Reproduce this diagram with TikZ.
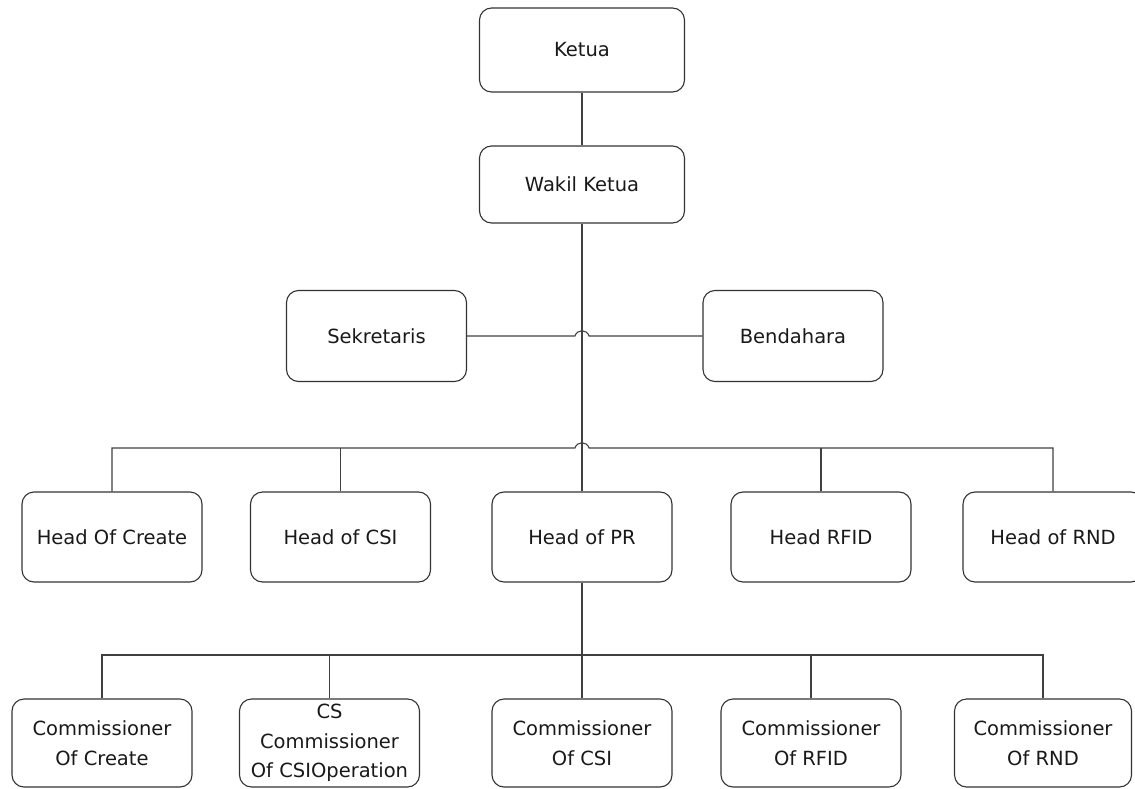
\documentclass[tikz,border=0pt]{standalone}
\usepackage{fontspec}
\setmainfont{DejaVu Sans}
\usepackage{tikz}

\begin{document}
\begin{tikzpicture}[x=1pt,y=-1pt,
		orgbox/.style={draw=black!80, line width=1.1pt, rounded corners=12pt, align=center, minimum width=180pt, minimum height=90pt, inner sep=0pt, font=\fontsize{19.5}{29.5}\selectfont, text=black!90},
		orgline/.style={draw=black!75, line width=1.1pt}]
		\useasboundingbox (0,0) rectangle (1135,789);
		\node[orgbox, minimum width=205pt, minimum height=84pt] (ketua) at (582,50) {Ketua};
		\node[orgbox, minimum width=205pt, minimum height=77pt] (wakil) at (582,184.5) {Wakil Ketua};
		\node[orgbox, minimum height=91pt] (sekretaris) at (376.5,336) {Sekretaris};
		\node[orgbox, minimum height=91pt] (bendahara) at (793,336) {Bendahara};
		\node[orgbox] (hcreate) at (112,537) {Head Of Create};
		\node[orgbox] (hcsi) at (340.5,537) {Head of CSI};
		\node[orgbox] (hpr) at (582,537) {Head of PR};
		\node[orgbox] (hrfid) at (821,537) {Head RFID};
		\node[orgbox] (hrnd) at (1053,537) {Head of RND};
		\node[orgbox, minimum height=88pt] (ccreate) at (102,743) {Commissioner\\Of Create};
		\node[orgbox, minimum height=88pt] (ccs) at (329.5,743) {CS\\Commissioner\\Of CSIOperation};
		\node[orgbox, minimum height=88pt] (ccsi) at (582,743) {Commissioner\\Of CSI};
		\node[orgbox, minimum height=88pt] (crfid) at (811,743) {Commissioner\\Of RFID};
		\node[orgbox, minimum width=177pt, minimum height=88pt] (crnd) at (1043,743) {Commissioner\\Of RND};
		\coordinate (hopA) at (sekretaris.east -| wakil.south);
		\coordinate (hopB) at (582,448);
		\coordinate (busC) at (582,655);
		\draw[orgline] (ketua) -- (wakil);
		\draw[orgline] (wakil.south) -- (hpr.north);
		\draw[orgline] (sekretaris.east) -- ([xshift=-7pt]hopA) .. controls +(2,-7) and +(-2,-7) .. ([xshift=7pt]hopA) -- (bendahara.west);
		\draw[orgline] (hcreate.north) |- ([xshift=-7pt]hopB) .. controls +(2,-7) and +(-2,-7) .. ([xshift=7pt]hopB) -| (hrnd.north);
		\draw[orgline] (hcsi.north) -- (hcsi.north |- hopB);
		\draw[orgline] (hrfid.north) -- (hrfid.north |- hopB);
		\draw[orgline] (hpr.south) -- (ccsi.north);
		\draw[orgline] (ccreate.north) |- (busC) -| (crnd.north);
		\draw[orgline] (ccs.north) -- (ccs.north |- busC);
		\draw[orgline] (crfid.north) -- (crfid.north |- busC);
		\end{tikzpicture}
\end{document}
